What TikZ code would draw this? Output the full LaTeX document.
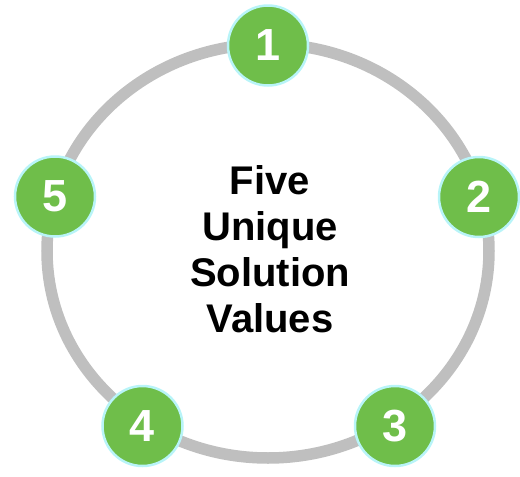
\documentclass[tikz,border=0pt]{standalone}
\usepackage{fontspec}
\setmainfont{Liberation Sans}
\definecolor{ringgray}{HTML}{BFBFBF}
\definecolor{nodegreen}{HTML}{6FBE4A}
\definecolor{nodeedge}{HTML}{B8F4F8}
\begin{document}
\begin{tikzpicture}[x=1pt,y=-1pt,
  numnode/.style={circle, minimum size=80pt, inner sep=0pt, fill=nodegreen, draw=nodeedge, line width=2.5pt,
    text=white, font=\fontsize{45}{45}\selectfont\bfseries},
  ring/.style={draw=ringgray, line width=11.5pt}]
\useasboundingbox (0,0) rectangle (520,477);
\draw[ring] (268,251) ellipse [x radius=221, y radius=207];
\node[numnode] (n1) at (268,45.5) {1};
\node[numnode] (n2) at (479,197) {2};
\node[numnode] (n3) at (395,426) {3};
\node[numnode] (n4) at (142.5,426) {4};
\node[numnode] (n5) at (55,196.5) {5};
\node[align=center, inner sep=0pt, font=\fontsize{40}{46}\selectfont\bfseries] (title) at (270,249)
  {Five\\Unique\\Solution\\Values};
\end{tikzpicture}
\end{document}
